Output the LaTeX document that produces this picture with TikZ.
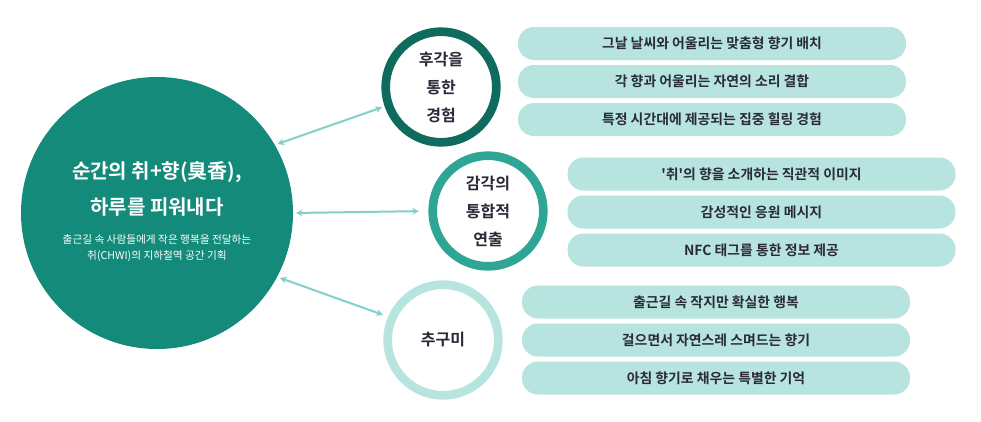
\documentclass[tikz,border=0pt]{standalone}
\usepackage{fontspec}
\setmainfont{Noto Sans CJK KR}[BoldFont={Noto Sans CJK KR Bold}, Ligatures=TeXOff]
\usetikzlibrary{arrows.meta, positioning}
\definecolor{mainteal}{HTML}{138A7A}
\definecolor{darkteal}{HTML}{0F6B5E}
\definecolor{midteal}{HTML}{2EA595}
\definecolor{paleteal}{HTML}{B8E4DF}
\definecolor{arrowteal}{HTML}{82D0C6}
\definecolor{inkdark}{HTML}{2A2A38}

\begin{document}
\begin{tikzpicture}[x=0.75pt, y=-0.75pt, >=Stealth,
    ring/.style={circle, draw, line width=6.5pt, minimum size=83pt, inner sep=0pt,
        align=center, text=inkdark, font=\bfseries\fontsize{12}{21}\selectfont},
    pill/.style={fill=paleteal, rounded corners=12pt, minimum width=291pt,
        minimum height=24.75pt, inner sep=0pt, text=inkdark,
        font=\bfseries\fontsize{10.4}{12}\selectfont},
    link/.style={{Stealth[length=5pt,width=5pt]}-{Stealth[length=5pt,width=5pt]},
        arrowteal, line width=1.5pt}]
        \useasboundingbox (0,0) rectangle (981,421);

        % Central circle
        \node[circle, fill=mainteal, minimum size=204pt, inner sep=0pt] (main) at (157,213) {};
        \node[text=white, font=\bfseries\fontsize{15}{17}\selectfont] (title) at (157,172) {순간의 취+향(臭香),};
        \node[text=white, font=\bfseries\fontsize{15}{17}\selectfont] (subtitle) at (157,207) {하루를 피워내다};
        \node[text=white, align=center, font=\fontsize{8}{12}\selectfont] (desc) at (157,248)
            {출근길 속 사람들에게 작은 행복을 전달하는\\취(CHWI)의 지하철역 공간 기획};

        % Three rings
        \node[ring, draw=darkteal] (smell) at (441,87) {후각을\\통한\\경험};
        \node[ring, draw=midteal] (sense) at (488,211) {감각의\\통합적\\연출};
        \node[ring, draw=paleteal] (goal) at (443,340) {추구미};

        % Links
        \draw[link, shorten <=2pt, shorten >=2pt] (main.30) -- (smell.199);
        \draw[link, shorten <=2pt, shorten >=7pt] (main.east) -- (sense.west);
        \draw[link, shorten <=2pt, shorten >=4pt] (main.-28) -- (goal.157);

        % Pills
        \foreach \txt [count=\i] in {그날 날씨와 어울리는 맞춤형 향기 배치, 각 향과 어울리는 자연의 소리 결합,
            특정 시간대에 제공되는 집중 힐링 경험}
            \node[pill] (smell-\i) at (712,{5.5+38*\i}) {\txt};
        \foreach \txt [count=\i] in {'취'의 향을 소개하는 직관적 이미지, 감성적인 응원 메시지,
            NFC 태그를 통한 정보 제공}
            \node[pill] (sense-\i) at (761.5,{136+38*\i}) {\txt};
        \foreach \txt [count=\i] in {출근길 속 작지만 확실한 행복, 걸으면서 자연스레 스며드는 향기,
            아침 향기로 채우는 특별한 기억}
            \node[pill] (goal-\i) at (716,{264+38*\i}) {\txt};
    \end{tikzpicture}
\end{document}
